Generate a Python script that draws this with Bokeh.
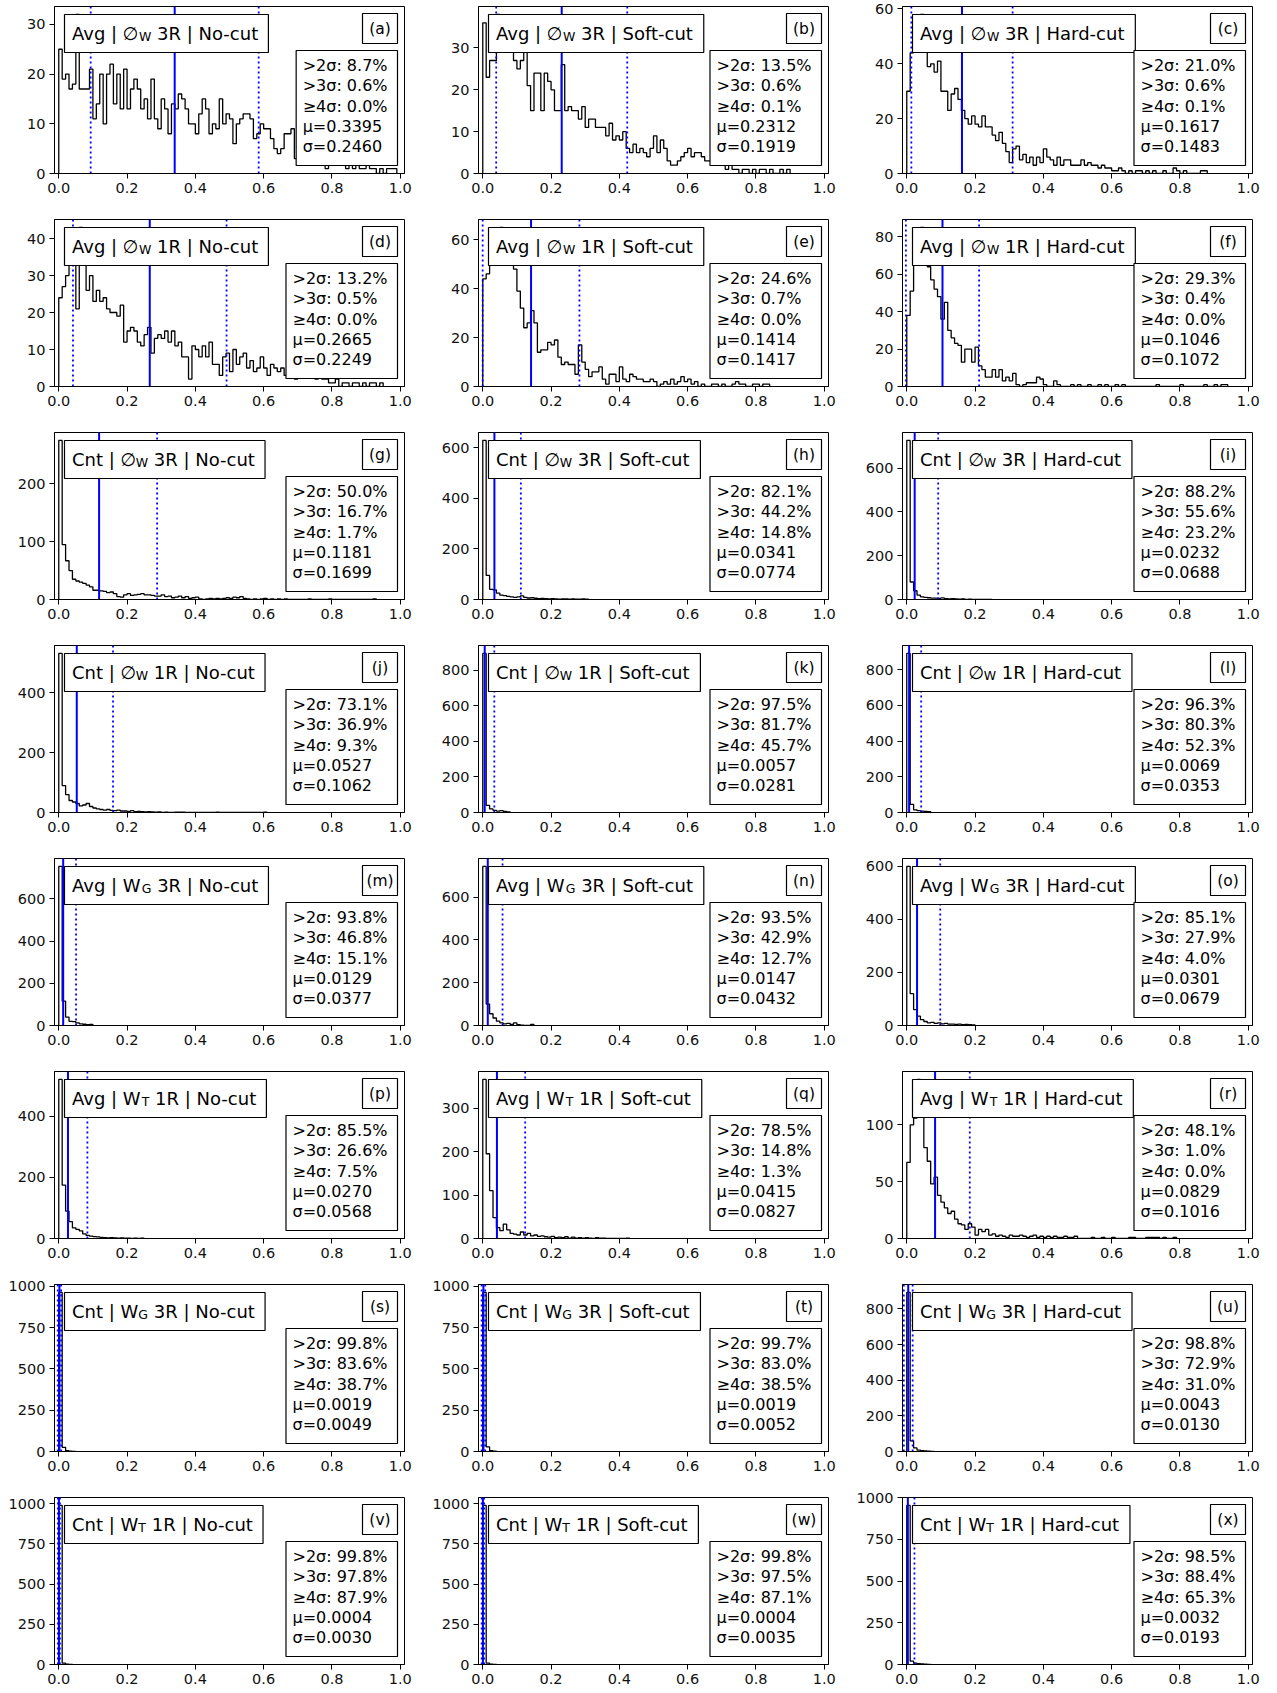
import numpy as np
from bokeh.plotting import figure
from bokeh.layouts import gridplot
from bokeh.models import Range1d, FixedTicker, NumeralTickFormatter
from bokeh.core.properties import value
from bokeh.embed import file_html
from bokeh.resources import INLINE

# ---------------- data ----------------
BIN_WIDTH = 0.01
X_TICKS = [0.0, 0.2, 0.4, 0.6, 0.8, 1.0]

panel_letters = list("abcdefghijklmnopqrstuvwx")
row_metric = ["Avg", "Avg", "Cnt", "Cnt", "Avg", "Avg", "Cnt", "Cnt"]
row_symbol = ["∅", "∅", "∅", "∅", "W", "W", "W", "W"]
row_sub = ["W", "W", "W", "W", "G", "T", "G", "T"]
row_ring = ["3R", "1R", "3R", "1R", "3R", "1R", "3R", "1R"]
cut_names = ["No-cut", "Soft-cut", "Hard-cut"]

pct_gt2 = [8.7, 13.5, 21.0, 13.2, 24.6, 29.3, 50.0, 82.1, 88.2, 73.1, 97.5, 96.3,
           93.8, 93.5, 85.1, 85.5, 78.5, 48.1, 99.8, 99.7, 98.8, 99.8, 99.8, 98.5]
pct_gt3 = [0.6, 0.6, 0.6, 0.5, 0.7, 0.4, 16.7, 44.2, 55.6, 36.9, 81.7, 80.3,
           46.8, 42.9, 27.9, 26.6, 14.8, 1.0, 83.6, 83.0, 72.9, 97.8, 97.5, 88.4]
pct_ge4 = [0.0, 0.1, 0.1, 0.0, 0.0, 0.0, 1.7, 14.8, 23.2, 9.3, 45.7, 52.3,
           15.1, 12.7, 4.0, 7.5, 1.3, 0.0, 38.7, 38.5, 31.0, 87.9, 87.1, 65.3]
mu_vals = [0.3395, 0.2312, 0.1617, 0.2665, 0.1414, 0.1046, 0.1181, 0.0341, 0.0232,
           0.0527, 0.0057, 0.0069, 0.0129, 0.0147, 0.0301, 0.0270, 0.0415, 0.0829,
           0.0019, 0.0019, 0.0043, 0.0004, 0.0004, 0.0032]
sigma_vals = [0.2460, 0.1919, 0.1483, 0.2249, 0.1417, 0.1072, 0.1699, 0.0774, 0.0688,
              0.1062, 0.0281, 0.0353, 0.0377, 0.0432, 0.0679, 0.0568, 0.0827, 0.1016,
              0.0049, 0.0052, 0.0130, 0.0030, 0.0035, 0.0193]

y_ticks = [
    [0, 10, 20, 30], [0, 10, 20, 30], [0, 20, 40, 60],
    [0, 10, 20, 30, 40], [0, 20, 40, 60], [0, 20, 40, 60, 80],
    [0, 100, 200], [0, 200, 400, 600], [0, 200, 400, 600],
    [0, 200, 400], [0, 200, 400, 600, 800], [0, 200, 400, 600, 800],
    [0, 200, 400, 600], [0, 200, 400, 600], [0, 200, 400, 600],
    [0, 200, 400], [0, 100, 200, 300], [0, 50, 100],
    [0, 250, 500, 750, 1000], [0, 250, 500, 750, 1000], [0, 200, 400, 600, 800],
    [0, 250, 500, 750, 1000], [0, 250, 500, 750, 1000], [0, 250, 500, 750, 1000],
]

# histogram counts per 0.01-wide bin, starting at 0
counts_a = [25, 19, 20, 17, 18, 32, 17, 17, 17, 21,
            11, 14, 20, 10, 20, 22, 14, 20, 13, 21,
            13, 17, 19, 17, 13, 15, 11, 19, 11, 9,
            15, 13, 8, 14, 13, 16, 15, 13, 10, 10,
            8, 12, 15, 13, 8, 10, 9, 15, 10, 12,
            11, 6, 10, 11, 12, 12, 11, 7, 8, 10,
            9, 9, 7, 5, 4, 5, 8, 8, 9, 3,
            6, 5, 4, 5, 3, 4, 3, 2, 1, 3,
            2, 3, 2, 2, 1, 2, 1, 2, 1, 1,
            2, 1, 1, 0, 1, 0, 1, 1, 1]
counts_b = [36, 23, 27, 27, 38, 34, 31, 33, 30, 27,
            25, 27, 29, 21, 15, 24, 24, 15, 24, 22,
            20, 15, 15, 26, 15, 16, 15, 15, 13, 16,
            11, 13, 13, 11, 11, 11, 9, 12, 8, 9,
            8, 10, 6, 5, 7, 5, 6, 5, 4, 6,
            9, 5, 8, 6, 3, 2, 2, 3, 4, 5,
            6, 4, 5, 5, 4, 3, 3, 2, 3, 2,
            2, 1, 2, 1, 1, 0, 1, 1, 0, 1,
            0, 1, 1, 0, 1, 0, 0, 1, 0, 1]
counts_c = [30, 44, 50, 54, 58, 45, 39, 40, 37, 41,
            30, 30, 23, 29, 31, 27, 23, 20, 18, 21,
            18, 17, 21, 17, 17, 14, 12, 15, 11, 8,
            4, 9, 10, 5, 7, 4, 6, 3, 6, 4,
            9, 6, 5, 3, 6, 3, 5, 5, 3, 3,
            3, 5, 3, 4, 3, 3, 2, 3, 2, 2,
            1, 1, 2, 1, 0, 1, 0, 1, 1, 0,
            1, 0, 1, 0, 0, 1, 0, 0, 2, 1,
            0, 1, 0, 0, 0, 0, 1, 1]
counts_d = [24, 27, 30, 35, 40, 21, 43, 33, 26, 30,
            23, 26, 23, 24, 21, 20, 20, 19, 22, 12,
            15, 16, 15, 12, 11, 14, 16, 9, 13, 14,
            13, 15, 12, 15, 11, 12, 8, 8, 2, 11,
            10, 8, 11, 8, 12, 6, 6, 3, 8, 9,
            4, 10, 6, 8, 9, 5, 7, 4, 5, 8,
            5, 3, 6, 5, 4, 5, 3, 4, 4, 2,
            4, 3, 4, 3, 3, 2, 3, 2, 2, 1,
            1, 2, 0, 1, 1, 0, 1, 1, 0, 1,
            0, 1, 1, 0, 1]
counts_e = [44, 46, 55, 60, 64, 65, 61, 56, 52, 48,
            39, 32, 24, 26, 31, 26, 14, 15, 15, 18,
            17, 19, 12, 9, 10, 9, 9, 5, 17, 10,
            7, 4, 6, 6, 8, 3, 1, 5, 5, 2,
            8, 3, 2, 5, 4, 3, 3, 2, 2, 3,
            2, 0, 1, 2, 1, 3, 1, 2, 4, 2,
            3, 1, 2, 0, 1, 0, 0, 1, 1, 0,
            1, 0, 0, 1, 2, 1, 1, 0, 0, 1,
            1, 0, 1, 1]
counts_f = [38, 51, 66, 78, 85, 82, 64, 57, 52, 48,
            36, 45, 30, 26, 23, 22, 13, 20, 20, 13,
            21, 11, 9, 5, 5, 9, 5, 9, 3, 5,
            3, 7, 1, 0, 1, 2, 2, 2, 5, 4,
            1, 0, 0, 3, 1, 0, 0, 0, 1, 0,
            1, 0, 0, 1, 0, 0, 1, 0, 1, 0,
            0, 1, 0, 1, 0, 0, 0, 0, 0, 0,
            0, 0, 0, 1, 0, 0, 0, 0, 0, 0,
            1, 0, 0, 0, 0, 0, 0, 1, 0, 0,
            1, 0, 1, 1]
counts_g = [275, 95, 67, 50, 35, 32, 30, 28, 25, 22,
            16, 16, 15, 14, 12, 13, 10, 5, 4, 8,
            10, 7, 8, 9, 10, 8, 8, 7, 6, 6,
            8, 5, 6, 3, 4, 6, 3, 5, 2, 3,
            4, 1, 0, 1, 2, 1, 2, 1, 2, 3,
            2, 4, 3, 5, 2, 1, 0, 1, 0, 1,
            2, 0, 1, 0, 1, 0, 1, 0, 0, 0,
            0, 0, 0, 1, 0, 0, 0, 0, 0, 1,
            0, 0, 0, 0, 0, 0, 0, 0, 0, 0,
            0, 0, 1]
counts_h = [628, 95, 40, 38, 25, 17, 15, 12, 10, 8,
            10, 14, 8, 6, 7, 5, 3, 4, 3, 2,
            3, 2, 1, 2, 2, 1, 2, 1, 1, 2, 1]
counts_i = [727, 80, 40, 20, 12, 10, 8, 6, 6, 5,
            7, 4, 3, 4, 3, 2, 3, 1, 2, 1,
            0, 0, 0, 0, 1]
counts_j = [531, 90, 60, 40, 35, 30, 22, 25, 30, 20,
            15, 12, 10, 8, 10, 7, 6, 8, 5, 5,
            4, 6, 3, 4, 3, 2, 3, 2, 1, 2,
            0, 1, 0, 0, 1, 1, 1, 0, 0, 0,
            0, 0, 0, 0, 0, 0, 1, 0, 0, 0,
            0, 0, 0, 0, 0, 0, 0, 0, 0, 0, 1]
counts_k = [895, 40, 20, 12, 8, 10, 6, 4]
counts_l = [890, 45, 15, 10, 8, 6, 5]
counts_m = [753, 115, 40, 20, 18, 12, 8, 6, 4, 5]
counts_n = [744, 100, 55, 35, 20, 12, 8, 10, 5, 12, 4, 2, 1, 0, 5]
counts_o = [599, 120, 60, 35, 22, 15, 10, 12, 8, 10, 6, 8, 5, 5, 4, 5, 3, 4, 3, 2]
counts_p = [521, 175, 90, 55, 35, 30, 25, 15, 10, 8, 6, 5, 4, 3, 2, 3, 2, 1, 2, 1,
            1, 0, 1, 0, 1]
counts_q = [366, 195, 110, 48, 25, 18, 33, 20, 12, 10,
            8, 15, 8, 12, 6, 8, 5, 6, 4, 3,
            5, 2, 3, 2, 4, 1, 3, 1, 2, 1,
            2, 1, 0, 2, 1, 1, 0, 0, 0, 0, 0, 0, 1]
counts_r = [67, 100, 106, 140, 112, 80, 68, 48, 54, 38,
            32, 27, 22, 24, 17, 13, 12, 8, 13, 10,
            3, 8, 6, 8, 3, 4, 2, 3, 2, 1,
            3, 2, 2, 3, 2, 1, 2, 3, 1, 2,
            1, 2, 1, 2, 1, 1, 2, 1, 1, 2,
            0, 0, 0, 0, 1, 0, 0, 1, 0, 0,
            1, 0, 0, 0, 0, 1, 1, 0, 0, 0,
            1, 1, 1, 1, 0, 1, 0, 0, 1]
counts_s = [962, 25, 5, 2, 1]
counts_t = [962, 28, 5, 2]
counts_u = [892, 60, 20, 8, 5, 3, 2, 1]
counts_v = [988, 8, 2, 1]
counts_w = [988, 8, 2, 1]
counts_x = [953, 20, 8, 5, 3, 2, 1]

all_counts = [counts_a, counts_b, counts_c, counts_d, counts_e, counts_f,
              counts_g, counts_h, counts_i, counts_j, counts_k, counts_l,
              counts_m, counts_n, counts_o, counts_p, counts_q, counts_r,
              counts_s, counts_t, counts_u, counts_v, counts_w, counts_x]

# ---------------- style / layout ----------------
FONT = "DejaVu Sans"
X0, X1 = -0.0125, 1.0125
FW, FH = 350, 167
B_LEFT = 54
B_RIGHT = 20
B_TOP = 6
B_BOTTOM = 40
B_BOTTOM_LAST = 26
TITLE_SIZE = 18.0
SUB_SIZE = 12.5
STAT_SIZE = 16.0
LETTER_SIZE = 15.5
TICK_SIZE = "14.5px"

CW = {' ': 0.318, '(': 0.390, ')': 0.390, 'a': 0.613, 'b': 0.635, 'c': 0.550, 'd': 0.635,
      'e': 0.615, 'f': 0.352, 'g': 0.635, 'h': 0.634, 'i': 0.278, 'j': 0.278, 'k': 0.579,
      'l': 0.278, 'm': 0.974, 'n': 0.634, 'o': 0.612, 'p': 0.635, 'q': 0.635, 'r': 0.411,
      's': 0.521, 't': 0.392, 'u': 0.634, 'v': 0.592, 'w': 0.818, 'x': 0.592, 'A': 0.684,
      'C': 0.698, 'G': 0.775, 'H': 0.752, 'N': 0.748, 'R': 0.695, 'S': 0.635, 'T': 0.611,
      'W': 0.989, '|': 0.337, '-': 0.361, '.': 0.318, ':': 0.337, '%': 0.950, '>': 0.838,
      '≥': 0.838, '=': 0.838, 'σ': 0.602, 'μ': 0.636, '∅': 0.838}


def text_w(s, size):
    return sum(CW.get(ch, 0.636) for ch in s) * size


def make_panel(idx):
    r, c = divmod(idx, 3)
    counts = np.array(all_counts[idx], dtype=float)
    ytop = counts.max() * 1.05
    b_bottom = B_BOTTOM_LAST if r == 7 else B_BOTTOM
    p = figure(width=B_LEFT + FW + B_RIGHT, height=B_TOP + FH + b_bottom,
               x_range=Range1d(X0, X1), y_range=Range1d(0, ytop),
               min_border_left=B_LEFT, min_border_right=B_RIGHT,
               min_border_top=B_TOP, min_border_bottom=b_bottom,
               output_backend="svg", toolbar_location=None, tools="")

    def px(dx):
        return X0 + dx * (X1 - X0) / FW

    def py(dy):
        return ytop - dy * ytop / FH

    # histogram outline (step)
    edges = np.arange(len(counts) + 1) * BIN_WIDTH
    xs = np.repeat(edges, 2)
    ys = np.concatenate([[0.0], np.repeat(counts, 2), [0.0]])
    p.line(xs, ys, line_color="black", line_width=1.3)

    mu, sd = mu_vals[idx], sigma_vals[idx]
    p.segment(x0=[mu], y0=[0], x1=[mu], y1=[ytop], line_color="blue", line_width=2)
    p.segment(x0=[mu - sd, mu + sd], y0=[0, 0], x1=[mu - sd, mu + sd], y1=[ytop, ytop],
              line_color="blue", line_width=1.8, line_dash="2 3")

    # title box
    pre = f"{row_metric[r]} | {row_symbol[r]}"
    sub = row_sub[r]
    post = f"{row_ring[r]} | {cut_names[c]}"
    w_pre = text_w(pre, TITLE_SIZE)
    w_sub = text_w(sub, SUB_SIZE)
    w_space = text_w(" ", TITLE_SIZE)
    w_post = text_w(post, TITLE_SIZE)
    bx0 = 10
    bw = w_pre + w_sub + w_space + w_post + 18
    p.quad(left=[px(bx0)], right=[px(bx0 + bw)], top=[py(8)], bottom=[py(46)],
           fill_color="white", line_color="black", line_width=1.2)
    tx = bx0 + 7.5
    mid = 27
    p.text(x=[px(tx), px(tx + w_pre + w_sub + w_space)], y=[py(mid), py(mid)],
           text=[pre, post],
           text_font=value(FONT), text_font_size=value(f"{TITLE_SIZE}px"),
           text_align="left", text_baseline="middle", text_color="black")
    p.text(x=[px(tx + w_pre)], y=[py(mid + 3)], text=[sub],
           text_font=value(FONT), text_font_size=value(f"{SUB_SIZE}px"),
           text_align="left", text_baseline="middle", text_color="black")

    # panel letter box
    p.quad(left=[px(FW - 42)], right=[px(FW - 7)], top=[py(7)], bottom=[py(37)],
           fill_color="white", line_color="black", line_width=1.2)
    p.text(x=[px(FW - 24.5)], y=[py(22)], text=[f"({panel_letters[idx]})"],
           text_font=value(FONT), text_font_size=value(f"{LETTER_SIZE}px"),
           text_align="center", text_baseline="middle", text_color="black")

    # stats box
    lines = [f">2σ: {pct_gt2[idx]:.1f}%", f">3σ: {pct_gt3[idx]:.1f}%",
             f"≥4σ: {pct_ge4[idx]:.1f}%", f"μ={mu:.4f}", f"σ={sd:.4f}"]
    sw = max(text_w(s, STAT_SIZE) for s in lines) + 17
    sx1 = FW - 7
    sx0 = sx1 - sw
    p.quad(left=[px(sx0)], right=[px(sx1)], top=[py(44)], bottom=[py(159)],
           fill_color="white", line_color="black", line_width=1.2)
    p.text(x=[px(sx0 + 6.5)] * 5, y=[py(44 + 15 + 20.3 * k) for k in range(5)], text=lines,
           text_font=value(FONT), text_font_size=value(f"{STAT_SIZE}px"),
           text_align="left", text_baseline="middle", text_color="black")

    # axes styling
    p.xgrid.grid_line_color = None
    p.ygrid.grid_line_color = None
    p.outline_line_color = "black"
    p.outline_line_width = 1
    p.outline_line_alpha = 1
    p.xaxis.ticker = FixedTicker(ticks=X_TICKS)
    p.xaxis.formatter = NumeralTickFormatter(format="0.0")
    p.yaxis.ticker = FixedTicker(ticks=y_ticks[idx])
    for ax in (p.xaxis, p.yaxis):
        ax.major_label_text_font = FONT
        ax.major_label_text_font_size = TICK_SIZE
        ax.major_label_text_color = "#111111"
        ax.major_tick_out = 5
        ax.major_tick_in = 0
        ax.minor_tick_line_color = None
        ax.axis_line_color = "black"
        ax.major_tick_line_color = "black"
        ax.major_label_standoff = 4
    p.background_fill_color = "white"
    p.border_fill_color = "white"
    return p


panels = [make_panel(i) for i in range(24)]
rows = [panels[3 * r:3 * r + 3] for r in range(8)]
grid = gridplot(rows, toolbar_location=None)

open("out.html", "w").write(file_html(grid, INLINE))
